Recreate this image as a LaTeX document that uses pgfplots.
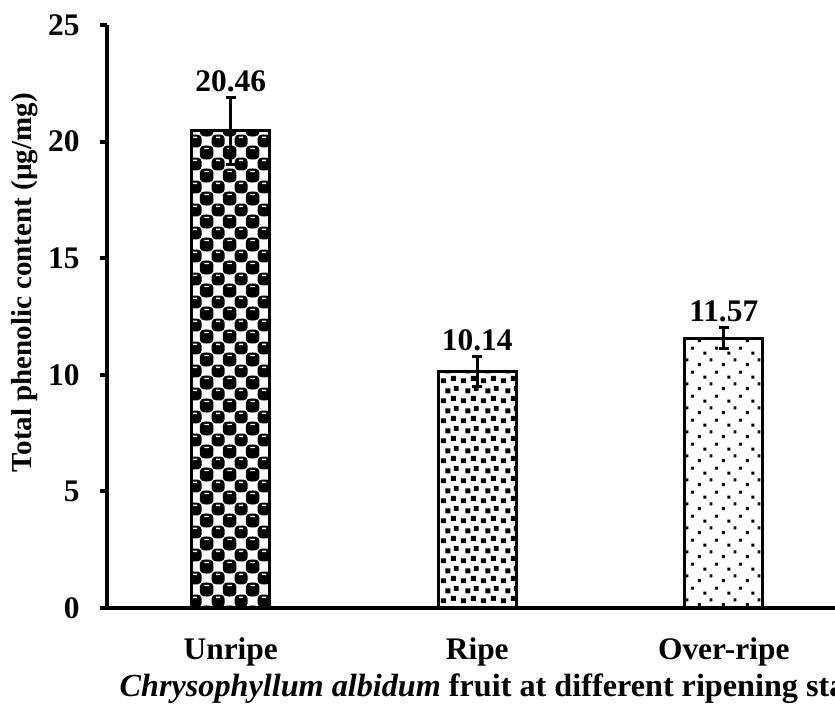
\documentclass[border=0pt]{standalone}
\usepackage{fontspec}
\setmainfont{Liberation Serif}
\usepackage{pgfplots}
\pgfplotsset{compat=1.18}
\usetikzlibrary{patterns.meta}

\tikzdeclarepattern{
  name=spheres, type=colored,
  bottom left={(0pt,0pt)}, top right={(11.5pt,11.5pt)}, tile size={(11.5pt,11.5pt)},
  code={
    \fill[white] (0pt,0pt) rectangle (11.5pt,11.5pt);
    \foreach \cx/\cy in {0/0, 11.5/0, 0/11.5, 11.5/11.5, 5.75/5.75}{
      \fill[black, rounded corners=2pt] (\cx pt-3.3pt,\cy pt-3.3pt) rectangle (\cx pt+3.3pt,\cy pt+3.3pt);
      \fill[white] (\cx pt-1pt,\cy pt+1.5pt) rectangle (\cx pt+1pt,\cy pt+2.2pt);
    }
  }
}
\tikzdeclarepattern{
  name=bigconfetti, type=colored,
  bottom left={(0pt,0pt)}, top right={(10pt,10pt)}, tile size={(10pt,10pt)},
  code={
    \fill[white] (0pt,0pt) rectangle (10pt,10pt);
    \fill[black] (0.4pt,0.4pt) rectangle ++(2.6pt,2.6pt);
    \fill[black] (5.6pt,1.6pt) rectangle ++(2.6pt,2.6pt);
    \fill[black] (2.8pt,5.6pt) rectangle ++(2.6pt,2.6pt);
    \fill[black] (7.2pt,6.8pt) rectangle ++(2.5pt,2.5pt);
  }
}
\tikzdeclarepattern{
  name=sparsedots, type=colored,
  bottom left={(0pt,0pt)}, top right={(12pt,12pt)}, tile size={(12pt,12pt)},
  code={
    \fill[white] (0pt,0pt) rectangle (12pt,12pt);
    \fill[black] (1pt,1pt) rectangle ++(1.5pt,1.5pt);
    \fill[black] (7pt,3.5pt) rectangle ++(1.5pt,1.5pt);
    \fill[black] (3.8pt,7pt) rectangle ++(1.5pt,1.5pt);
    \fill[black] (9.8pt,9.6pt) rectangle ++(1.5pt,1.5pt);
  }
}

\newcommand\lbl{\fontsize{15.7}{18}\selectfont\bfseries}

\begin{document}
\begin{tikzpicture}
\begin{axis}[
  scale only axis, width=369.75pt, height=291.5pt,
  xmin=-0.5, xmax=2.5, ymin=0, ymax=25,
  axis x line*=bottom, axis y line*=left,
  x axis line style={line width=2.4pt, -},
  y axis line style={line width=2pt, -},
  xtick={0,1,2}, xticklabels={Unripe,Ripe,Over-ripe},
  xtick style={draw=none},
  ytick={0,5,10,15,20,25},
  ytick style={line width=2pt, black},
  tick align=outside, major tick length=3.5pt,
  ticklabel style={font=\lbl},
  /pgf/number format/assume math mode=true,
  xticklabel style={anchor=base, yshift=-22.5pt},
  yticklabel style={anchor=east, inner sep=0pt, xshift=-10.25pt},
  ylabel={Total phenolic content (µg/mg)},
  ylabel style={font=\fontsize{14.5}{17}\selectfont\bfseries, at={(axis description cs:-0.1116,0.558)}, anchor=center},
  xlabel={\textit{Chrysophyllum albidum} fruit at different ripening stages},
  xlabel style={font=\fontsize{16.1}{18}\selectfont\bfseries, at={(axis description cs:0.016,0)}, anchor=base west, inner sep=0pt, yshift=-44.5pt},
  clip=false,
]
\addplot[ybar, bar width=39pt, draw=black, line width=1.5pt, pattern=spheres,
  error bars/.cd, y dir=both, y explicit,
  error bar style={line width=1.5pt, black},
  error mark options={rotate=90, mark size=2.6pt, line width=1.5pt, black}]
  coordinates {(0,20.46) +- (0,1.43)};
\addplot[ybar, bar width=39pt, draw=black, line width=1.5pt, pattern=bigconfetti,
  error bars/.cd, y dir=both, y explicit,
  error bar style={line width=1.5pt, black},
  error mark options={rotate=90, mark size=2.6pt, line width=1.5pt, black}]
  coordinates {(1,10.14) +- (0,0.64)};
\addplot[ybar, bar width=39pt, draw=black, line width=1.5pt, pattern=sparsedots,
  error bars/.cd, y dir=both, y explicit,
  error bar style={line width=1.5pt, black},
  error mark options={rotate=90, mark size=2.6pt, line width=1.5pt, black}]
  coordinates {(2,11.57) +- (0,0.45)};
\addplot[draw=none, mark=none, nodes near coords, point meta=explicit symbolic,
  nodes near coords style={font=\lbl, anchor=base, yshift=3.2pt, inner sep=0pt}]
  coordinates {(0,21.89) [20.46] (1,10.78) [10.14] (2,12.02) [11.57]};
\end{axis}
\pgfresetboundingbox
\path[use as bounding box] (-53.75pt,-48pt) rectangle (363.75pt,304pt);
\end{tikzpicture}
\end{document}
